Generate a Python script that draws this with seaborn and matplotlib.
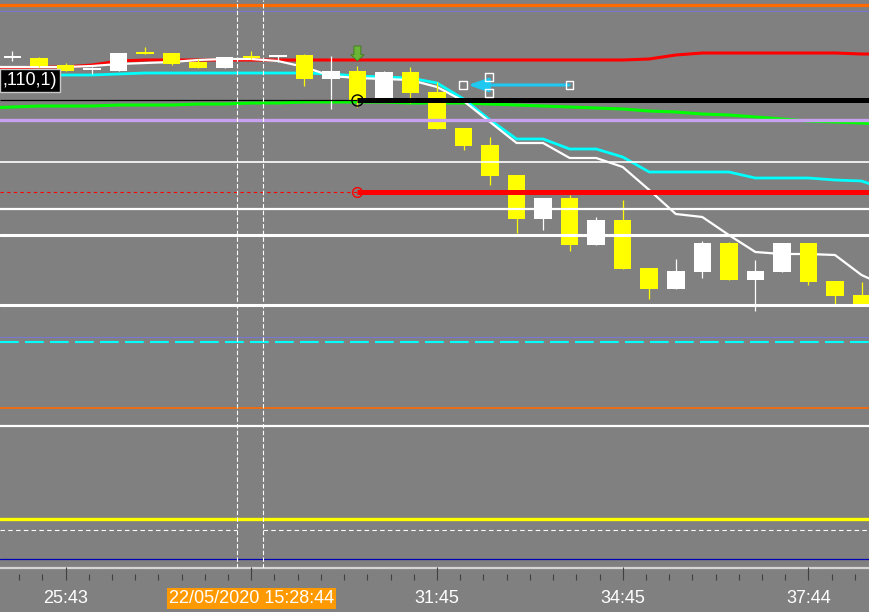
import numpy as np
import pandas as pd
import matplotlib
matplotlib.use("Agg")
import matplotlib.pyplot as plt
import seaborn as sns

# --- candles (33 bars), price values ---
opens = [1.1242, 1.1242, 1.1235, 1.1230, 1.1229, 1.1247, 1.1247, 1.1238, 1.1232, 1.1243,
         1.1243, 1.1245, 1.1221, 1.1229, 1.1202, 1.1228, 1.1208, 1.1172, 1.1155, 1.1125,
         1.1081, 1.1102, 1.1055, 1.1080, 1.1032, 1.1011, 1.1028, 1.1057, 1.1020, 1.1028,
         1.1057, 1.1019, 1.1005]
highs = [1.1249, 1.1243, 1.1237, 1.1233, 1.1247, 1.1253, 1.1247, 1.1241, 1.1243, 1.1249,
         1.1245, 1.1246, 1.1244, 1.1234, 1.1229, 1.1233, 1.1218, 1.1172, 1.1163, 1.1125,
         1.1102, 1.1105, 1.1083, 1.1100, 1.1032, 1.1041, 1.1059, 1.1058, 1.1040, 1.1057,
         1.1057, 1.1019, 1.1018]
lows = [1.1239, 1.1233, 1.1229, 1.1226, 1.1229, 1.1246, 1.1235, 1.1232, 1.1232, 1.1241,
        1.1238, 1.1214, 1.1191, 1.1193, 1.1202, 1.1197, 1.1171, 1.1150, 1.1115, 1.1067,
        1.1070, 1.1049, 1.1055, 1.1031, 1.1001, 1.1011, 1.1022, 1.1020, 1.0989, 1.1028,
        1.1015, 1.0996, 1.0996]
closes = [1.1242, 1.1234, 1.1229, 1.1230, 1.1247, 1.1246, 1.1236, 1.1232, 1.1243, 1.1242,
          1.1245, 1.1221, 1.1229, 1.1200, 1.1228, 1.1207, 1.1171, 1.1154, 1.1124, 1.1081,
          1.1102, 1.1055, 1.1080, 1.1031, 1.1011, 1.1029, 1.1057, 1.1020, 1.1029, 1.1057,
          1.1018, 1.1004, 1.0996]

# moving averages, one value per bar from -1 (off left edge) to 33 (off right edge)
white_ma = [1.1233, 1.1233, 1.1233, 1.1233, 1.1234, 1.1236, 1.1237, 1.1238, 1.1240, 1.1241,
            1.1241, 1.1239, 1.1233, 1.1224, 1.1222, 1.1221, 1.1220, 1.1213, 1.1199, 1.1178,
            1.1157, 1.1157, 1.1142, 1.1142, 1.1133, 1.1110, 1.1086, 1.1083, 1.1065, 1.1048,
            1.1046, 1.1046, 1.1045, 1.1025, 1.1013]
cyan_ma = [1.1225, 1.1225, 1.1225, 1.1225, 1.1225, 1.1226, 1.1227, 1.1227, 1.1227, 1.1227,
           1.1227, 1.1227, 1.1227, 1.1226, 1.1224, 1.1223, 1.1222, 1.1217, 1.1201, 1.1180,
           1.1161, 1.1161, 1.1151, 1.1151, 1.1143, 1.1128, 1.1128, 1.1128, 1.1128, 1.1122,
           1.1122, 1.1122, 1.1120, 1.1119, 1.1110]
red_ma = [1.1232, 1.1232, 1.1233, 1.1233, 1.1235, 1.1239, 1.1240, 1.1240, 1.1240, 1.1240,
          1.1240, 1.1240, 1.1240, 1.1240, 1.1240, 1.1240, 1.1240, 1.1240, 1.1240, 1.1240,
          1.1240, 1.1240, 1.1240, 1.1240, 1.1240, 1.1241, 1.1245, 1.1247, 1.1247, 1.1247,
          1.1247, 1.1247, 1.1247, 1.1246, 1.1246]
green_ma = [1.1192, 1.1193, 1.1194, 1.1194, 1.1194, 1.1195, 1.1195, 1.1195, 1.1196, 1.1196,
            1.1197, 1.1197, 1.1198, 1.1198, 1.1198, 1.1198, 1.1197, 1.1197, 1.1197, 1.1196,
            1.1195, 1.1194, 1.1193, 1.1192, 1.1191, 1.1189, 1.1188, 1.1186, 1.1185, 1.1183,
            1.1181, 1.1179, 1.1178, 1.1177, 1.1175]

# horizontal objects
level_top = 1.1295
level_thin_blue = 1.1289
level_black = 1.1200
level_lilac = 1.1180
level_red = 1.1108
white_levels = [1.1138, 1.1091, 1.1065, 1.0995, 1.0874]
level_blue2 = 1.0963
level_cyan_dash = 1.0958
level_orange2 = 1.0892
level_yellow = 1.0781
level_white_dash = 1.0770
level_navy = 1.0741
object_bar = 13            # bar where black/red objects start
signal_bar = 13            # green down arrow
signal_top, signal_tip = 1.1254, 1.1239
arrow_from, arrow_to, arrow_price = 20.98, 17.17, 1.1215
handle_x = [16.98, 17.96, 17.96, 20.98]
handle_y = [1.1215, 1.1223, 1.1207, 1.1215]
vlines_x = [8.46, 9.44]

tick_pos = [2, 9, 16, 23, 30]
tick_labels = ["25:43", "22/05/2020 15:28:44", "31:45", "34:45", "37:44"]

sns.set_theme(style="dark", rc={"axes.facecolor": "#808080", "figure.facecolor": "#808080"})
plt.rcParams['font.family'] = ['Liberation Sans', 'DejaVu Sans']

fig = plt.figure(figsize=(8.7, 6.12), dpi=100)
ax = fig.add_axes([0, 44 / 612, 1, 568 / 612])
ax.set_facecolor("#808080")
xlim = (-0.47, 32.32)

ma_x = np.arange(-1, 34)
sns.lineplot(x=ma_x, y=green_ma, ax=ax, color="#00ff00", linewidth=2.2, zorder=2)
sns.lineplot(x=ma_x, y=red_ma, ax=ax, color="#ff0000", linewidth=2.2, zorder=2)
sns.lineplot(x=ma_x, y=cyan_ma, ax=ax, color="#00ffff", linewidth=2.0, zorder=2)
sns.lineplot(x=ma_x, y=white_ma, ax=ax, color="#ffffff", linewidth=1.6, zorder=2)

# candles
df = pd.DataFrame({"open": opens, "high": highs, "low": lows, "close": closes})
df["x"] = np.arange(len(df))
df["color"] = np.where(df["close"] >= df["open"], "#ffffff", "#ffff00")
body_lo = df[["open", "close"]].min(axis=1)
body_h = np.maximum((df["close"] - df["open"]).abs(), 0.0002)
ax.vlines(df["x"], df["low"], df["high"], colors=df["color"], linewidth=0.9, zorder=3)
ax.bar(df["x"], body_h, bottom=body_lo, width=0.66, color=df["color"], linewidth=0, zorder=3)

# horizontal objects
ax.axhline(level_top, color="#ff6a00", lw=2.3, zorder=4)
ax.axhline(level_thin_blue, color="#7878d0", lw=0.8, zorder=4)
ax.hlines(level_black, xlim[0], object_bar, color="black", lw=0.9, zorder=4)
ax.hlines(level_black, object_bar, xlim[1], color="black", lw=3.6, zorder=4)
ax.axhline(level_lilac, color="#c8a0f0", lw=2.4, zorder=4)
ax.hlines(level_red, xlim[0], object_bar, color="#ff0000", lw=0.8, linestyles=(0, (3, 3)), zorder=4)
ax.hlines(level_red, object_bar, xlim[1], color="#ff0000", lw=3.6, zorder=4)
for lv, w in zip(white_levels, [1.2, 1.6, 2.2, 2.2, 1.6]):
    ax.axhline(lv, color="white", lw=w, zorder=4)
ax.axhline(level_blue2, color="#7878d0", lw=0.8, zorder=4)
ax.axhline(level_cyan_dash, color="#00ffff", lw=1.5, ls=(0, (9, 3)), zorder=4)
ax.axhline(level_orange2, color="#ff6a00", lw=1.2, zorder=4)
ax.axhline(level_yellow, color="#ffff00", lw=2.4, zorder=4)
ax.hlines(level_white_dash, xlim[0], vlines_x[0], color="white", lw=0.8, linestyles=(0, (4, 3)), zorder=4)
ax.hlines(level_white_dash, vlines_x[1], xlim[1], color="white", lw=0.8, linestyles=(0, (4, 3)), zorder=4)
ax.axhline(level_navy, color="#0000b4", lw=0.9, zorder=4)
for vx in vlines_x:
    ax.axvline(vx, color="white", lw=0.8, ls=(0, (4, 2)), zorder=4)

# markers and drawn objects
ax.plot(object_bar, level_black, "o", ms=8, mfc="none", mec="black", mew=1.0, zorder=5)
ax.plot(object_bar, level_red, "o", ms=7, mfc="none", mec="#ff0000", mew=1.0, zorder=5)
ax.annotate("", xy=(signal_bar, signal_tip), xytext=(signal_bar, signal_top),
            arrowprops=dict(arrowstyle="simple,head_width=0.95,head_length=0.45,tail_width=0.5",
                            fc="#6ab536", ec="#3d7a1a", lw=0.6, mutation_scale=10,
                            shrinkA=0, shrinkB=0), zorder=5)
ax.annotate("", xy=(arrow_to, arrow_price), xytext=(arrow_from, arrow_price),
            arrowprops=dict(arrowstyle="-|>,head_length=1.0,head_width=0.35",
                            color="#1ec8f0", lw=2.2, shrinkA=0, shrinkB=0), zorder=5)
ax.scatter(handle_x, handle_y, marker="s", s=26, facecolor="none", edgecolor="white",
           linewidth=1.0, zorder=6)

ax.text(-0.36, 1.12195, ",110,1)", color="white", fontsize=13, va="center", ha="left",
        bbox=dict(boxstyle="square,pad=0.15", fc="black", ec="#c8c8c8", lw=1.0), zorder=7)

ax.set_xlim(*xlim)
ax.set_ylim(1.0732, 1.1300)
ax.set_xticks([])
ax.set_yticks([])
ax.set_xlabel("")
ax.set_ylabel("")
for s in ["top", "left", "right"]:
    ax.spines[s].set_visible(False)
ax.spines["bottom"].set_color("#d4d4d4")
ax.spines["bottom"].set_linewidth(1.6)

# time scale strip
axt = fig.add_axes([0, 32 / 612, 1, 12 / 612])
axt.patch.set_visible(False)
axt.set_xlim(*xlim)
axt.set_ylim(0, 1)
for s in axt.spines.values():
    s.set_visible(False)
axt.set_yticks([])
axt.set_xticks(tick_pos, tick_labels)
axt.set_xticks(np.arange(0.25, 32.3, 0.875), minor=True)
axt.tick_params(axis="x", which="major", direction="in", length=9.4, width=0.8,
                color="#404040", labelcolor="white", labelsize=13, pad=7, bottom=True)
axt.tick_params(axis="x", which="minor", direction="in", length=4.3, width=0.8,
                color="#404040", bottom=True)
axt.get_xticklabels()[1].set_bbox(dict(facecolor="#ff9900", edgecolor="none",
                                       boxstyle="square,pad=0.12"))

fig.savefig("out.png", dpi=100, facecolor=fig.get_facecolor())
